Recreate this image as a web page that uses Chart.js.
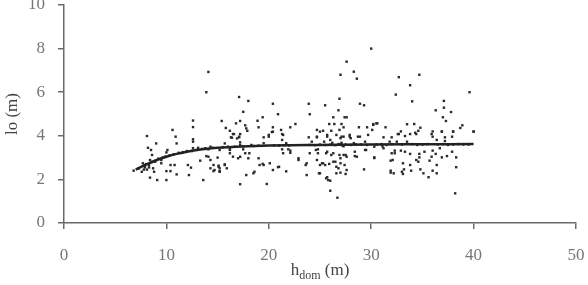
<!DOCTYPE html>
<html>
<head>
<meta charset="utf-8">
<script src="https://cdn.jsdelivr.net/npm/chart.js@4"></script>
<style>
  html, body { margin: 0; padding: 0; background: #fff; }
  #wrap { width: 588px; height: 285px; }
</style>
</head>
<body>
<div id="wrap"><canvas id="chart" width="588" height="285"></canvas></div>
<script>
// observed points: dominant height (m) and lo (m)
const hdom = [
  6.8, 7.6, 7.7, 8.1, 8.2, 8.4, 8.4, 8.5, 8.6, 8.7, 8.8, 8.9, 9.0, 9.1, 9.5, 9.5, 10.0, 10.0, 10.0, 10.1,
  10.4, 10.4, 10.6, 10.8, 10.9, 11.0, 11.0, 7.3, 7.9, 8.0, 8.3, 8.6, 8.9, 9.2, 9.6, 9.9, 10.3, 10.7, 11.2, 11.6,
  12.0, 7.9, 8.1, 8.3, 7.8,
  12.1, 12.2, 12.4, 12.6, 12.6, 12.6, 12.6, 12.6, 13.1, 13.3, 13.6, 13.8, 13.9, 13.9, 14.1, 14.1, 14.1, 14.3, 14.3, 14.3,
  14.6, 14.6, 14.7, 15.0, 15.1, 15.1, 15.2, 15.2, 15.2, 15.2, 15.4, 15.7, 15.7, 15.7, 15.8, 15.9, 16.2, 16.2, 16.2, 16.2,
  16.3, 16.4, 16.5, 16.5, 16.6, 16.8, 16.9, 17.0, 17.1, 17.1, 17.1, 17.2, 17.2, 17.2, 17.2, 17.2, 17.2, 17.5, 17.5, 17.7,
  17.7, 17.8, 17.8, 17.9, 18.0, 18.0, 18.1, 18.3, 18.5, 18.6, 18.9, 19.0, 19.0, 19.1, 19.4, 19.4, 19.5, 19.5, 19.5, 19.8,
  12.5, 13.0, 13.5, 14.5, 15.5, 16.0, 16.7, 17.5, 18.5, 19.0,
  20.0, 20.0, 20.1, 20.4, 20.4, 20.4, 20.4, 20.3, 20.9, 20.9, 21.0, 21.2, 21.3, 21.3, 21.3, 21.4, 21.4, 21.7, 21.7, 21.9,
  22.1, 22.1, 22.1, 22.6, 22.9, 22.9, 23.6, 23.7, 23.7, 23.9, 23.9, 24.0, 24.0, 24.2, 24.6, 24.7, 24.7, 24.7, 24.7, 24.8,
  24.8, 24.9, 25.0, 25.0, 25.0, 25.2, 25.3, 25.3, 25.4, 25.5, 25.5, 25.6, 25.6, 25.7, 25.7, 25.7, 25.7, 25.8, 25.9, 25.9,
  26.0, 26.0, 26.0, 26.1, 26.1, 26.2, 26.3, 26.3, 26.3, 26.4, 26.5, 26.6, 26.6, 26.6, 26.7, 26.8, 26.8, 26.9, 26.9, 26.9,
  27.0, 27.0, 27.0, 27.0, 27.0, 27.1, 27.1, 27.1, 27.3, 27.3, 27.3, 27.4, 27.4, 27.5, 27.5, 27.6, 27.6, 27.6, 27.6, 27.9,
  27.9, 28.0, 28.3, 28.3, 28.4, 28.4, 28.6, 28.6, 28.7, 28.8, 28.9, 28.9, 29.3, 29.3, 29.4, 29.4, 29.5, 29.6, 29.7,
  20.5, 21.0, 21.5, 22.0, 24.0, 24.5, 25.0, 25.5, 26.0, 26.5, 27.0, 27.2, 27.5, 28.0, 28.5, 29.0, 29.6, 26.8, 27.3,
  30.0, 30.1, 30.2, 30.2, 30.3, 30.3, 30.5, 30.6, 31.2, 31.2, 31.4, 31.8, 31.9, 31.9, 31.9, 32.0, 32.0, 32.1, 32.2, 32.3,
  32.3, 32.4, 32.5, 32.6, 32.7, 32.7, 32.9, 32.9, 33.0, 33.1, 33.1, 33.2, 33.3, 33.3, 33.5, 33.5, 33.8, 33.8, 33.8, 33.8,
  33.9, 34.0, 34.2, 34.3, 34.4, 34.4, 34.6, 34.6, 34.7, 34.7, 34.7, 34.8, 34.8, 35.1, 35.2, 35.6, 35.7, 35.9, 35.9, 36.0,
  36.0, 36.0, 36.0, 36.3, 36.3, 36.4, 36.4, 36.4, 36.7, 36.9, 36.9, 36.9, 37.0, 37.1, 37.1, 37.2, 37.2, 37.3, 37.4, 37.8,
  37.9, 37.9, 38.0, 38.0, 38.2, 38.3, 38.3, 38.7, 38.9, 39.6, 40.0, 40.0,
  30.5, 31.0, 31.5, 32.0, 33.0, 34.0, 34.5, 35.0, 35.5, 36.5, 37.0, 37.5, 38.0, 38.5, 39.0, 39.5, 30.3, 31.1
];
const lo = [
  2.40, 2.35, 2.74, 3.99, 3.45, 2.89, 2.08, 3.35, 3.12, 2.51, 2.35, 2.81, 3.65, 1.97, 2.89, 2.74, 3.24, 2.38, 1.97, 3.35,
  2.66, 2.38, 4.27, 2.66, 3.96, 3.65, 2.23, 2.50, 2.60, 2.70, 2.65, 2.80, 2.85, 2.95, 3.00, 3.05, 3.10, 3.15, 3.22, 3.25,
  3.30, 2.55, 2.45, 2.55, 2.45,
  2.66, 2.20, 2.54, 4.70, 4.40, 3.84, 3.73, 3.43, 3.45, 2.86, 1.97, 3.43, 6.00, 3.07, 6.93, 3.04, 3.38, 3.50, 2.51, 2.89,
  2.38, 2.66, 2.43, 3.00, 2.63, 2.58, 2.51, 2.38, 2.35, 3.35, 4.68, 2.69, 2.66, 3.65, 4.36, 2.51, 3.20, 3.39, 4.23, 3.35,
  3.93, 3.91, 4.08, 3.04, 4.08, 4.57, 3.88, 2.97, 5.78, 3.93, 3.96, 4.68, 4.08, 3.70, 3.58, 3.04, 1.78, 5.10, 3.38, 4.48,
  3.20, 2.20, 4.34, 4.23, 5.60, 2.97, 3.20, 3.58, 2.28, 2.35, 4.69, 2.97, 4.39, 2.66, 2.71, 4.85, 2.66, 3.93, 3.66, 1.79,
  3.30, 3.36, 3.40, 3.45, 3.48, 3.50, 3.50, 3.52, 3.53, 3.55,
  3.96, 4.04, 2.74, 2.43, 5.47, 4.39, 4.19, 4.17, 4.99, 2.56, 2.58, 4.27, 4.08, 3.81, 3.38, 3.20, 4.04, 3.66, 2.37, 3.38,
  3.32, 4.39, 3.22, 4.54, 2.97, 2.89, 2.66, 2.74, 2.20, 5.47, 3.93, 4.99, 3.20, 3.73, 3.35, 4.27, 3.96, 2.89, 3.93, 3.20,
  3.38, 2.28, 2.66, 4.19, 2.28, 2.74, 4.23, 2.74, 3.73, 5.40, 2.66, 3.20, 2.05, 4.04, 3.96, 3.27, 2.10, 1.97, 4.54, 2.71,
  3.81, 1.94, 1.48, 4.23, 3.12, 3.68, 4.85, 3.20, 2.81, 4.54, 2.81, 4.04, 2.28, 2.58, 1.16, 5.17, 2.51, 5.70, 4.27, 3.12,
  6.80, 3.89, 2.97, 2.74, 2.31, 4.54, 3.96, 3.68, 4.39, 3.96, 3.12, 4.85, 2.66, 2.25, 3.12, 7.40, 4.85, 3.04, 2.43, 3.96,
  4.04, 3.89, 6.94, 3.66, 3.07, 3.27, 6.62, 3.04, 3.96, 4.39, 5.47, 3.96, 5.40, 2.46, 3.73, 3.35, 3.35, 4.39, 4.04,
  3.56, 3.55, 3.57, 3.56, 3.58, 3.57, 3.60, 3.58, 3.60, 3.57, 3.60, 3.55, 3.60, 3.58, 3.60, 3.60, 3.58, 3.62, 3.52,
  8.00, 4.27, 4.50, 4.54, 3.01, 2.98, 4.57, 4.57, 3.93, 3.43, 4.39, 3.73, 2.31, 2.86, 2.40, 3.93, 3.20, 2.89, 2.28, 3.20,
  3.32, 5.89, 3.73, 4.08, 6.69, 4.08, 4.20, 3.32, 2.35, 2.74, 2.25, 2.46, 3.99, 3.27, 4.53, 3.73, 6.32, 4.08, 3.17, 2.66,
  2.40, 5.58, 4.54, 4.14, 4.08, 2.89, 4.23, 2.81, 6.80, 3.01, 3.17, 4.37, 2.46, 2.28, 3.27, 2.10, 2.86, 4.08, 3.04, 4.20,
  3.96, 3.32, 2.40, 5.17, 3.17, 3.81, 2.66, 2.28, 3.43, 4.20, 4.19, 3.01, 4.85, 5.60, 5.29, 3.93, 3.76, 4.68, 3.07, 5.09,
  3.96, 3.27, 4.20, 4.19, 1.36, 3.01, 2.56, 4.36, 4.48, 6.00, 4.20, 4.19,
  3.60, 3.62, 3.58, 3.62, 3.60, 3.62, 3.58, 3.60, 3.62, 3.60, 3.62, 3.58, 3.60, 3.62, 3.60, 3.60, 3.50, 3.52
];

// fitted curve
const curveX = [7, 8, 9, 10, 11, 12, 13, 14, 15, 16, 18, 20, 22, 25, 30, 35, 40];
const curveY = [2.45, 2.68, 2.88, 3.04, 3.17, 3.27, 3.35, 3.41, 3.45, 3.48, 3.52, 3.55, 3.57, 3.58, 3.60, 3.61, 3.62];

const xTicks = [0, 10, 20, 30, 40, 50];
const yTicks = [0, 2, 4, 6, 8, 10];

const serif = '"Liberation Serif", "Times New Roman", serif';
const axisColor = "#6a6a6a";

const points = hdom.map((h, i) => ({ x: h, y: lo[i] }));
const curve = curveX.map((h, i) => ({ x: h, y: curveY[i] }));

// x title with subscript: h_dom (m)
const xTitlePlugin = {
  id: "xTitle",
  afterDraw(chart) {
    const ctx = chart.ctx;
    const area = chart.chartArea;
    const cx = (area.left + area.right) / 2;
    const y = 275;
    ctx.save();
    ctx.fillStyle = "#444";
    ctx.textBaseline = "alphabetic";
    ctx.textAlign = "left";
    const big = "17px " + serif;
    const small = "12px " + serif;
    ctx.font = big;
    const w1 = ctx.measureText("h").width;
    const w3 = ctx.measureText(" (m)").width;
    ctx.font = small;
    const w2 = ctx.measureText("dom").width;
    let x = cx - (w1 + w2 + w3) / 2;
    ctx.font = big;
    ctx.fillText("h", x, y);
    x += w1;
    ctx.font = small;
    ctx.fillText("dom", x, y + 4);
    x += w2;
    ctx.font = big;
    ctx.fillText(" (m)", x, y);
    ctx.restore();
  },
};

new Chart(document.getElementById("chart"), {
  type: "scatter",
  data: {
    datasets: [
      {
        label: "observed",
        data: points,
        pointStyle: "rect",
        pointRadius: 1.7,
        pointBackgroundColor: "#2a2a2a",
        pointBorderWidth: 0,
        showLine: false,
        order: 2,
      },
      {
        type: "line",
        label: "fitted",
        data: curve,
        borderColor: "#222",
        borderWidth: 2.5,
        pointRadius: 0,
        cubicInterpolationMode: "monotone",
        fill: false,
        order: 1,
      },
    ],
  },
  options: {
    responsive: false,
    animation: false,
    devicePixelRatio: 1,
    layout: { padding: { top: 5, right: 12, bottom: 0, left: 0 } },
    plugins: {
      legend: { display: false },
      tooltip: { enabled: false },
    },
    scales: {
      x: {
        type: "linear",
        min: 0,
        max: 50,
        afterBuildTicks: (s) => { s.ticks = xTicks.map((v) => ({ value: v })); },
        afterFit: (s) => { s.height = 62; s.paddingLeft = 0; s.paddingRight = 0; },
        grid: { drawOnChartArea: false, drawTicks: true, tickLength: 6, color: axisColor, lineWidth: 1.5 },
        border: { display: true, color: axisColor, width: 1.5 },
        ticks: { color: "#777", padding: 16, maxRotation: 0, font: { family: serif, size: 17 } },
      },
      y: {
        min: 0,
        max: 10,
        afterBuildTicks: (s) => { s.ticks = yTicks.map((v) => ({ value: v })); },
        afterFit: (s) => { s.width = 64; s.paddingTop = 0; s.paddingBottom = 0; },
        grid: { drawOnChartArea: false, drawTicks: true, tickLength: 6, color: axisColor, lineWidth: 1.5 },
        border: { display: true, color: axisColor, width: 1.5 },
        ticks: { color: "#777", padding: 13, font: { family: serif, size: 17 } },
        title: {
          display: true,
          text: "lo (m)",
          color: "#444",
          padding: { top: 2, bottom: 0 },
          font: { family: serif, size: 17 },
        },
      },
    },
  },
  plugins: [xTitlePlugin],
});
</script>
</body>
</html>
